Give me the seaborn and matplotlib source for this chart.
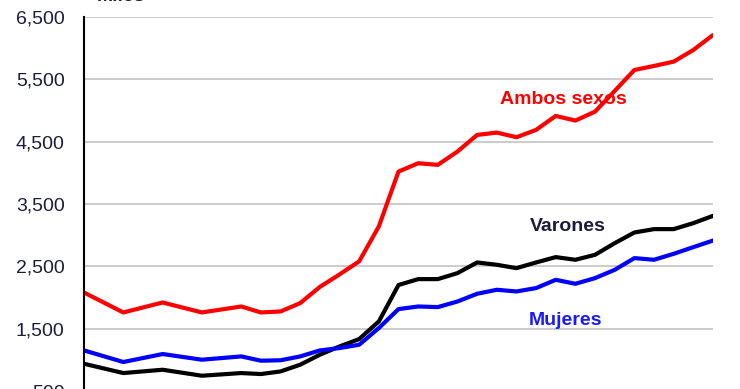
import pandas as pd
import numpy as np
import matplotlib.pyplot as plt
import seaborn as sns

# Periodos (índice), los primeros cada dos periodos
periodo = [0, 2, 4, 6, 8, 9, 10, 11, 12, 13, 14, 15, 16, 17, 18, 19, 20,
           21, 22, 23, 24, 25, 26, 27, 28, 29, 30, 31, 32]

# Miles de personas
ambos = [2080, 1760, 1920, 1760, 1856, 1760, 1776, 1910, 2170, 2370, 2580,
         3140, 4020, 4154, 4128, 4341, 4608, 4646, 4571, 4689, 4913, 4838,
         4982, 5314, 5650, 5715, 5784, 5971, 6211]
varones = [937, 788, 841, 745, 788, 772, 814, 922, 1082, 1215, 1333, 1616,
           2200, 2295, 2295, 2391, 2562, 2525, 2471, 2562, 2648, 2605, 2685,
           2872, 3043, 3097, 3097, 3193, 3310]
mujeres = [1151, 965, 1093, 1002, 1055, 986, 993, 1055, 1151, 1189, 1242,
           1510, 1814, 1856, 1846, 1936, 2060, 2124, 2097, 2151, 2284, 2220,
           2311, 2444, 2632, 2605, 2701, 2808, 2914]

series = ["Ambos sexos", "Varones", "Mujeres"]
colores = {"Ambos sexos": "#ff0000", "Varones": "#000000", "Mujeres": "#0000ff"}

df = pd.DataFrame({
    "periodo": periodo * 3,
    "miles": ambos + varones + mujeres,
    "serie": np.repeat(series, len(periodo)),
})

sns.set_style("white")
plt.rcParams["font.family"] = ["Liberation Sans", "DejaVu Sans"]

fig = plt.figure(figsize=(7.4, 3.89), dpi=100)
ax = fig.add_axes([84 / 740, -2 / 389, (713 - 84) / 740, (391 - 17) / 389])

sns.lineplot(data=df, x="periodo", y="miles", hue="serie", palette=colores,
             linewidth=3, legend=False, ax=ax)

ax.set_xlim(0, 32)
ax.set_ylim(500, 6500)
ax.set_yticks(np.arange(500, 6501, 1000))
ax.set_yticklabels([f"{v:,}" for v in range(500, 6501, 1000)],
                   fontsize=14, color="#1c1c3c")
ax.yaxis.grid(True, color="#c4c4c4", linewidth=1.2)
ax.set_axisbelow(True)
ax.tick_params(axis="y", direction="out", length=6, width=1.2, color="black", pad=8)
ax.set_xticks([])
ax.set_xlabel("")
ax.set_ylabel("")
for lado in ["top", "right", "bottom"]:
    ax.spines[lado].set_visible(False)
ax.spines["left"].set_color("black")
ax.spines["left"].set_linewidth(1.5)

ax.text(24.4, 5170, "Ambos sexos", color="#ff0000", fontsize=14,
        fontweight="bold", ha="center", va="center")
ax.text(24.6, 3134, "Varones", color="#1c1c3c", fontsize=14,
        fontweight="bold", ha="center", va="center")
ax.text(24.5, 1627, "Mujeres", color="#1a1aff", fontsize=14,
        fontweight="bold", ha="center", va="center")

fig.text(97 / 740, 1 - 1 / 389, "Miles", fontsize=14, fontweight="bold",
         color="#1c1c3c", ha="left", va="baseline")

fig.savefig("out.png", dpi=100)
